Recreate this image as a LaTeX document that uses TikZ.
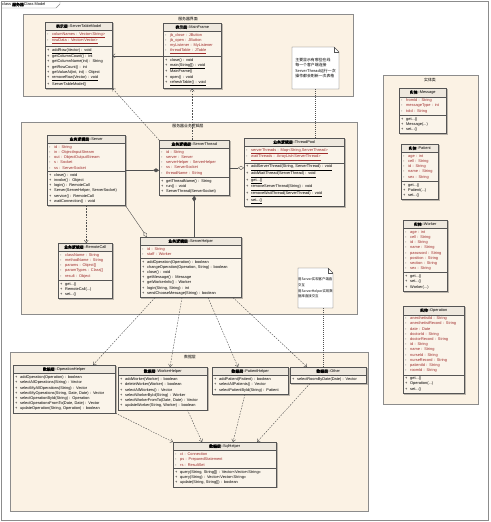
\documentclass[tikz,border=0pt]{standalone}
\usepackage{fontspec}
\setmainfont{Liberation Sans}
\newfontfamily\cjk[AutoFakeBold=2]{Noto Sans CJK SC}
\usetikzlibrary{arrows.meta,shapes.multipart,backgrounds}

\definecolor{pkgfill}{HTML}{FBF2E4}
\definecolor{pkgline}{HTML}{8C8C8C}
\definecolor{clsfill}{HTML}{FAF4EA}
\definecolor{hdrfill}{HTML}{EEE8DE}
\definecolor{clsline}{HTML}{555555}
\definecolor{shadowcol}{HTML}{BDB7AD}
\definecolor{attrcol}{HTML}{9E2A2A}
\definecolor{linecol}{HTML}{505050}

\newcommand\clsfont{\fontsize{3.9}{5.2}\selectfont}
\newcommand\clshdr[2]{\hbox to\hsize{\hss{\cjk\bfseries #1}::#2\hss}}
\newcommand\clsattr[1]{\mbox{\makebox[5pt][l]{-}\textcolor{attrcol}{#1}}}
\newcommand\clssattr[1]{\mbox{\makebox[5pt][l]{-}\textcolor{attrcol}{\underline{#1}}}}
\newcommand\clsop[1]{\mbox{\makebox[5pt][l]{+}#1}}
\newcommand\clssop[1]{\mbox{\makebox[5pt][l]{+}\underline{#1}}}

\begin{document}
\begin{tikzpicture}[x=1pt, y=-1pt,
    umlclass/.style={rectangle split, rectangle split parts=3,
      rectangle split part fill={hdrfill,clsfill,clsfill},
      draw=clsline, anchor=north west, text width=#1, align=left,
      inner xsep=2pt, inner ysep=2pt, font=\clsfont},
    helperclass/.style={umlclass=#1, rectangle split parts=2,
      rectangle split part fill={hdrfill,clsfill}},
    pkg/.style={draw=pkgline, fill=pkgfill},
    pkglabel/.style={font=\cjk\clsfont, inner sep=0pt},
    notebox/.style={font=\cjk\clsfont, align=left, inner sep=0pt},
    depline/.style={draw=linecol, dash pattern=on 1.6pt off 1.2pt,
      -{Straight Barb[length=2.5pt,width=4pt]}},
    assocline/.style={draw=linecol, -{Straight Barb[length=2.5pt,width=4pt]}},
    aggline/.style={draw=linecol, -{Diamond[open,length=6pt,width=4pt]}},
    compline/.style={draw=linecol, -{Diamond[length=6pt,width=4pt]}},
    noteline/.style={draw=linecol, dash pattern=on 1pt off 1pt}]
  \useasboundingbox (0,0) rectangle (490,522);
  % Cornice e pacchetti (sotto a tutto)
  \begin{scope}[on background layer]
    \fill[white] (0,0) rectangle (490,522);
    \draw[pkgline] (1,1) rectangle (488,520);
    \draw[pkgline] (1,8) -- (56,8) -- (60,4) -- (60,1);
    \draw[pkg] (23,14) rectangle (353,96);
    \draw[pkg] (21,122) rectangle (357,314);
    \draw[pkg] (10,352) rectangle (368,511);
    \draw[pkg] (383,75) rectangle (478,404);
  \end{scope}
  \node[anchor=west, font=\clsfont, inner sep=0pt] (title) at (2,4.5)
    {class {\cjk\bfseries 服务器}Class Model};
  \node[pkglabel] (pkguilbl) at (188,19) {服务器界面};
  \node[pkglabel] (pkglogiclbl) at (188,126.5) {服务器业务逻辑层};
  \node[pkglabel] (pkgdatalbl) at (190,357) {数据层};
  \node[pkglabel] (pkgentlbl) at (430,80) {实体类};
  % Note
  \draw[clsline, fill=white] (292,47) -- (334,47) -- (339,52) -- (339,89) -- (292,89) -- cycle;
  \draw[clsline] (334,47) -- (334,52) -- (339,52);
  \node[notebox, minimum width=47pt, minimum height=42pt] (note1) at (315.5,68)
    {主要显示有哪些在线\\每一个客户端连接\\ServerThread运行一次\\操作都会刷新一次表格};
  \draw[clsline, fill=white] (298,268) -- (328,268) -- (333,273) -- (333,308) -- (298,308) -- cycle;
  \draw[clsline] (328,268) -- (328,273) -- (333,273);
  \node[notebox, font=\cjk\fontsize{3.4}{5.6}\selectfont, minimum width=35pt, minimum height=40pt] (note2) at (315.5,288)
    {用Server实现客户端直\\交互\\用ServerHelper实现数\\据库直接交互};
  % Livello interfaccia
  \node[umlclass=63pt] (servertablemodel) at (45,22) {\clshdr{表示层}{ServerTableModel}
    \nodepart{two}\clssattr{columNames : Vector<String>}\\\clssattr{rowData : Vector<Vector>}
    \nodepart{three}\clssop{addRow(Vector) : void}\\\clsop{getColumnCount() : int}\\
    \clsop{getColumnName(int) : String}\\\clsop{getRowCount() : int}\\
    \clsop{getValueAt(int, int) : Object}\\\clssop{removeRow(Vector) : void}\\
    \clsop{ServerTableModel()}};
  \node[umlclass=54pt] (mainframe) at (163,23) {\clshdr{表示层}{MainFrame}
    \nodepart{two}\clsattr{jb\_close : JButton}\\\clsattr{jb\_open : JButton}\\
    \clsattr{myListener : MyListener}\\\clssattr{threadTable : JTable}
    \nodepart{three}\clsop{close() : void}\\\clssop{main(String[]) : void}\\
    \clsop{MainFrame()}\\\clsop{open() : void}\\\clssop{refreshTable() : void}};
  % Livello logico
  \node[umlclass=74pt] (server) at (47,135) {\clshdr{业务逻辑层}{Server}
    \nodepart{two}\clsattr{id : String}\\\clsattr{in : ObjectInputStream}\\
    \clsattr{out : ObjectOutputStream}\\\clsattr{s : Socket}\\\clsattr{ss : ServerSocket}
    \nodepart{three}\clsop{close() : void}\\\clsop{invoke() : Object}\\
    \clsop{login() : RemoteCall}\\\clsop{Server(ServerHelper, ServerSocket)}\\
    \clsop{service() : RemoteCall}\\\clsop{waitConnection() : void}};
  \node[umlclass=50pt] (remotecall) at (58,243) {\clshdr{业务逻辑层}{RemoteCall}
    \nodepart{two}\clsattr{className : String}\\\clsattr{methodName : String}\\
    \clsattr{params : Object[]}\\\clsattr{paramTypes : Class[]}\\\clsattr{result : Object}
    \nodepart{three}\clsop{get...()}\\\clsop{RemoteCall(...)}\\\clsop{set...()}};
  \node[umlclass=66pt] (serverthread) at (159,140) {\clshdr{业务逻辑层}{ServerThread}
    \nodepart{two}\clsattr{id : String}\\\clsattr{server : Server}\\
    \clsattr{serverHelper : ServerHelper}\\\clsattr{ss : ServerSocket}\\\clsattr{threadName : String}
    \nodepart{three}\clsop{getThreadName() : String}\\\clsop{run() : void}\\
    \clsop{ServerThread(ServerSocket)}};
  \node[umlclass=96pt] (threadpool) at (244,138) {\clshdr{业务逻辑层}{ThreadPool}
    \nodepart{two}\clssattr{serverThreads : Map<String,ServerThread>}\\
    \clssattr{waitThreads : ArrayList<ServerThread>}
    \nodepart{three}\clssop{addServerThread(String, ServerThread) : void}\\
    \clssop{addWaitThread(ServerThread) : void}\\\clssop{get...()}\\
    \clssop{removeServerThread(String) : void}\\\clssop{removeWaitThread(ServerThread) : void}\\
    \clssop{set...()}};
  \node[umlclass=97pt] (serverhelper) at (140,237) {\clshdr{业务逻辑层}{ServerHelper}
    \nodepart{two}\clsattr{id : String}\\\clsattr{staff : Worker}
    \nodepart{three}\clsop{addOperation(Operation) : boolean}\\
    \clsop{changeOperation(Operation, String) : boolean}\\\clsop{close() : void}\\
    \clsop{getMessage() : Message}\\\clsop{getWorkerInfo() : Worker}\\
    \clsop{login(String, String) : int}\\\clsop{sendChooseMessage(String) : boolean}};
  % Livello dati
  \node[helperclass=98pt] (operationhelper) at (13,365) {\clshdr{数据层}{OperationHelper}
    \nodepart{two}\clsop{addOperation(Operation) : boolean}\\
    \clsop{selectAllOperations(String) : Vector}\\\clsop{selectMyAllOperations(String) : Vector}\\
    \clsop{selectMyOperations(String, Date, Date) : Vector}\\
    \clsop{selectOperationById(String) : Operation}\\
    \clsop{selectOperationsFromTo(Date, Date) : Vector}\\
    \clsop{updateOperation(String, Operation) : boolean}};
  \node[helperclass=85pt] (workerhelper) at (118,367) {\clshdr{数据层}{WorkerHelper}
    \nodepart{two}\clsop{addWorker(Worker) : boolean}\\\clsop{deleteWorker(Worker) : boolean}\\
    \clsop{selectAllWorkers() : Vector}\\\clsop{selectWorkerById(String) : Worker}\\
    \clsop{selectWorkerFromTo(Date, Date) : Vector}\\\clsop{updateWorker(String, Worker) : boolean}};
  \node[helperclass=72pt] (patienthelper) at (212,367) {\clshdr{数据层}{PatientHelper}
    \nodepart{two}\clsop{addPatient(Patient) : boolean}\\\clsop{selectAllPatients() : Vector}\\
    \clsop{selectPatientById(String) : Patient}};
  \node[helperclass=72pt] (otherhelper) at (290,367) {\clshdr{数据层}{Other}
    \nodepart{two}\clsop{selectRoomByDate(Date) : Vector}};
  \node[umlclass=99pt] (sqlhelper) at (173,442) {\clshdr{数据层}{SqlHelper}
    \nodepart{two}\clsattr{ct : Connection}\\\clsattr{ps : PreparedStatement}\\\clsattr{rs : ResultSet}
    \nodepart{three}\clsop{query(String, String[]) : Vector<Vector<String>>}\\
    \clsop{query(String) : Vector<Vector<String>>}\\\clsop{update(String, String[]) : boolean}};
  % Entita
  \node[umlclass=43pt] (message) at (399,88) {\clshdr{实体}{Message}
    \nodepart{two}\clsattr{fromId : String}\\\clsattr{messageType : int}\\\clsattr{toId : String}
    \nodepart{three}\clsop{get...()}\\\clsop{Message(...)}\\\clsop{set...()}};
  \node[umlclass=33pt] (patient) at (401,144) {\clshdr{实体}{Patient}
    \nodepart{two}\clsattr{age : int}\\\clsattr{cell : String}\\\clsattr{id : String}\\
    \clsattr{name : String}\\\clsattr{sex : String}
    \nodepart{three}\clsop{get...()}\\\clsop{Patient(...)}\\\clsop{set...()}};
  \node[umlclass=40pt] (worker) at (403,220) {\clshdr{实体}{Worker}
    \nodepart{two}\clsattr{age : int}\\\clsattr{cell : String}\\\clsattr{id : String}\\
    \clsattr{name : String}\\\clsattr{password : String}\\\clsattr{position : String}\\
    \clsattr{section : String}\\\clsattr{sex : String}
    \nodepart{three}\clsop{get...()}\\\clsop{set...()}\\\clsop{Worker(...)}};
  \node[umlclass=57pt] (operation) at (403,306) {\clshdr{实体}{Operation}
    \nodepart{two}\clsattr{anesthetistId : String}\\\clsattr{anesthetistRecord : String}\\
    \clsattr{date : Date}\\\clsattr{doctorId : String}\\\clsattr{doctorRecord : String}\\
    \clsattr{id : String}\\\clsattr{name : String}\\\clsattr{nurseId : String}\\
    \clsattr{nurseRecord : String}\\\clsattr{patientId : String}\\\clsattr{roomId : String}
    \nodepart{three}\clsop{get...()}\\\clsop{Operation(...)}\\\clsop{set...()}};
  % Ombre delle classi
  \begin{scope}[on background layer]
    \foreach \n in {servertablemodel,mainframe,server,remotecall,serverthread,threadpool,
        serverhelper,operationhelper,workerhelper,patienthelper,otherhelper,sqlhelper,
        message,patient,worker,operation}
      \fill[shadowcol] ([shift={(1.3pt,-1.3pt)}]\n.north west) rectangle ([shift={(1.3pt,-1.3pt)}]\n.south east);
  \end{scope}
  % Collegamenti
  \draw[assocline] (mainframe.west) -- (mainframe.west -| servertablemodel.east);
  \draw[depline] (serverthread.north -| mainframe.south) -- (mainframe.south);
  \draw[depline] (serverthread.north west) -- (servertablemodel.south east);
  \draw[noteline] (note1.south) -- (note1.south |- threadpool.north);
  \draw[compline] (server.east) -- (server.east -| serverthread.west);
  \draw[aggline] (serverthread.east) -- (serverthread.east -| threadpool.west);
  \draw[compline] (serverthread.south |- serverhelper.north) -- (serverthread.south);
  \draw[aggline] (server.south east) -- ([xshift=7pt]serverhelper.north west);
  \draw[depline] (server.south) -- (server.south |- remotecall.north);
  \draw[noteline] ([xshift=7.5pt]note2.south) -- ([xshift=7.5pt]note2.south |- otherhelper.north);
  % Dipendenze verso il livello dati
  \draw[depline] ([xshift=15pt]serverhelper.south west) -- ([xshift=80pt]operationhelper.north west);
  \draw[depline] ([xshift=42pt]serverhelper.south west) -- ([xshift=52pt]workerhelper.north west);
  \draw[depline] ([xshift=68pt]serverhelper.south west) -- ([xshift=26pt]patienthelper.north west);
  \draw[depline] ([xshift=93pt]serverhelper.south west) -- ([xshift=17pt]otherhelper.north west);
  \draw[depline] (operationhelper.south east) -- (sqlhelper.north west);
  \draw[depline] ([xshift=-20pt]workerhelper.south east) -- ([xshift=29pt]sqlhelper.north west);
  \draw[depline] ([xshift=33pt]patienthelper.south west) -- ([xshift=60pt]sqlhelper.north west);
  \draw[depline] ([xshift=20pt]otherhelper.south west) -- ([xshift=84pt]sqlhelper.north west);
\end{tikzpicture}
\end{document}
